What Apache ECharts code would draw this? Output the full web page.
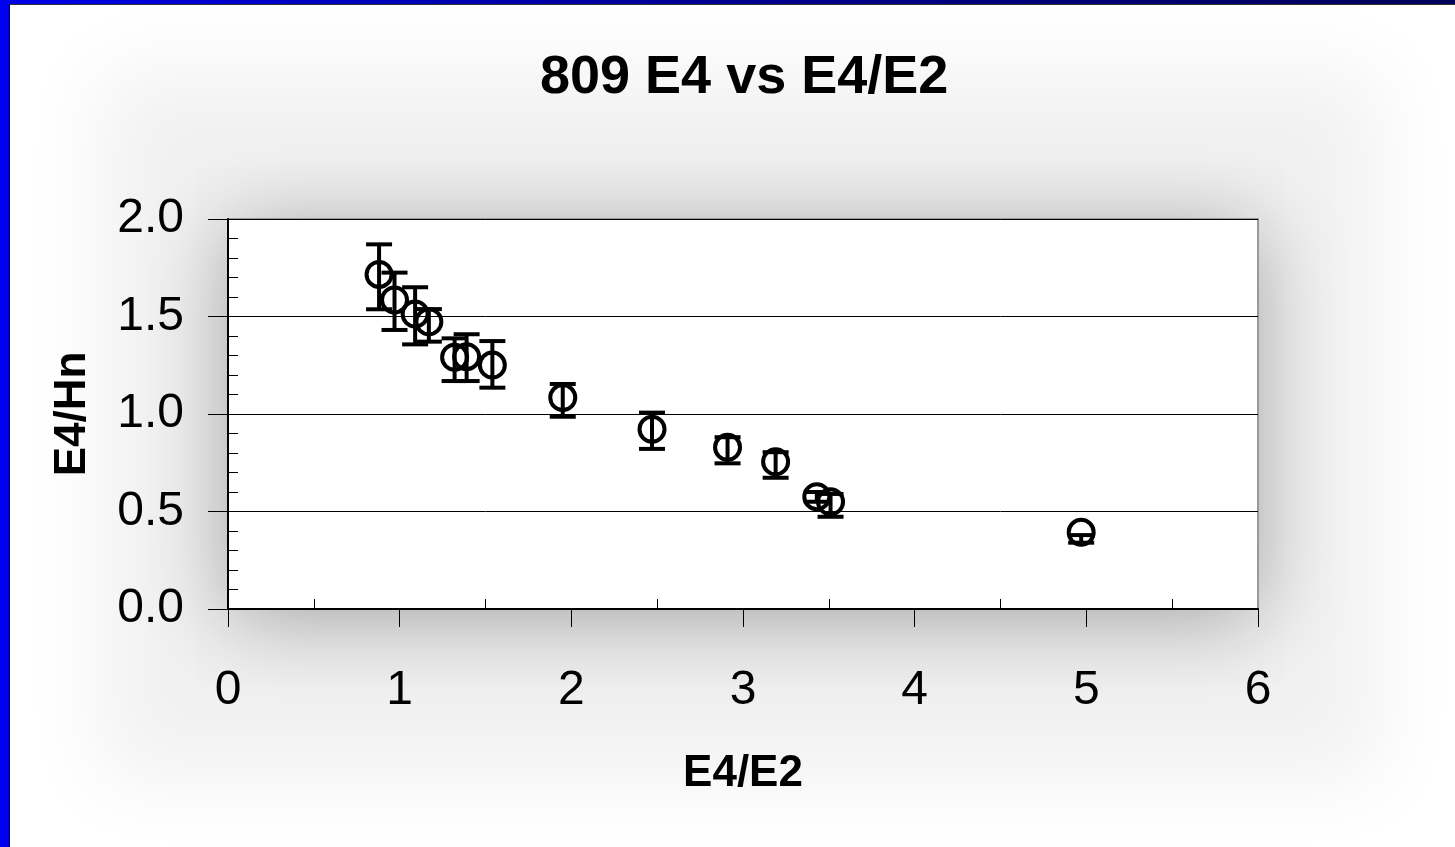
<!DOCTYPE html>
<html>
<head>
<meta charset="utf-8">
<title>809 E4 vs E4/E2</title>
<script src="https://cdn.jsdelivr.net/npm/echarts@6/dist/echarts.min.js"></script>
<style>
  html, body { margin: 0; padding: 0; background: #fff; }
  #chart { width: 1455px; height: 847px; }
</style>
</head>
<body>
<div id="chart"></div>
<script>
// E4/E2 (x), E4/Hn (y) with error bar ends
var ratioE4E2 = [0.88, 0.97, 1.09, 1.17, 1.32, 1.39, 1.54, 1.95, 2.47, 2.91, 3.19, 3.43, 3.51, 4.97];
var ratioE4Hn = [1.716, 1.585, 1.513, 1.473, 1.291, 1.294, 1.251, 1.084, 0.922, 0.829, 0.755, 0.576, 0.550, 0.393];
var errHigh   = [1.870, 1.725, 1.650, 1.538, 1.388, 1.409, 1.374, 1.154, 1.007, 0.881, 0.804, 0.600, 0.590, 0.379];
var errLow    = [1.537, 1.431, 1.357, 1.371, 1.169, 1.169, 1.135, 0.986, 0.821, 0.747, 0.673, 0.550, 0.473, 0.340];

var FONT = '"Liberation Sans", Arial, sans-serif';

var points = ratioE4E2.map(function (x, i) { return [x, ratioE4Hn[i]]; });
var bars = ratioE4E2.map(function (x, i) { return [x, errLow[i], errHigh[i]]; });

var chart = echarts.init(document.getElementById('chart'));

// 误差棒：竖线加上下两个横帽
function renderErrorBar(params, api) {
  var x = api.value(0);
  var top = api.coord([x, api.value(2)]);
  var bot = api.coord([x, api.value(1)]);
  var half = 13;
  var style = { stroke: '#000', lineWidth: 4 };
  return {
    type: 'group',
    children: [
      { type: 'line', shape: { x1: top[0], y1: top[1], x2: bot[0], y2: bot[1] }, style: style },
      { type: 'line', shape: { x1: top[0] - half, y1: top[1], x2: top[0] + half, y2: top[1] }, style: style },
      { type: 'line', shape: { x1: bot[0] - half, y1: bot[1], x2: bot[0] + half, y2: bot[1] }, style: style }
    ]
  };
}

// 外圈柔和的灰色光晕：矩形放在画布外，只把阴影投进来
var SHIFT = 3000;

var option = {
  backgroundColor: '#fff',
  animation: false,
  title: {
    text: '809 E4 vs E4/E2',
    left: 535,
    top: 46,
    textStyle: { fontFamily: FONT, fontSize: 54, fontWeight: 'bold', color: '#000' }
  },
  graphic: [
    { type: 'rect', z: -20, shape: { x: 100 - SHIFT, y: 70, width: 1280, height: 710 },
      style: { fill: '#000', shadowOffsetX: SHIFT, shadowBlur: 80, shadowColor: 'rgba(0,0,0,0.06)' } },
    { type: 'rect', z: -10, shape: { x: 228, y: 219, width: 1030, height: 390 },
      style: { fill: '#fff', shadowBlur: 80, shadowOffsetY: 10, shadowColor: 'rgba(0,0,0,0.32)' } },
    { type: 'rect', z: 10, shape: { x: 0, y: 0, width: 1455, height: 4 },
      style: { fill: new echarts.graphic.LinearGradient(0, 0, 1, 0, [
        { offset: 0, color: '#0000e8' }, { offset: 0.5, color: '#000090' }, { offset: 1, color: '#000058' }]) } },
    { type: 'rect', z: 10, shape: { x: 0, y: 4, width: 1455, height: 1 }, style: { fill: '#333' } },
    { type: 'rect', z: 11, shape: { x: 0, y: 0, width: 9, height: 847 }, style: { fill: '#0000f0' } },
    { type: 'rect', z: 11, shape: { x: 9, y: 4, width: 1, height: 843 }, style: { fill: '#000050' } }
  ],
  grid: {
    left: 228, right: 197, top: 219, bottom: 238,
    show: true, backgroundColor: 'transparent', borderColor: '#999', borderWidth: 2
  },
  xAxis: [
    {
      type: 'value', min: 0, max: 6, interval: 1,
      name: 'E4/E2', nameLocation: 'middle', nameGap: 143,
      nameTextStyle: { fontFamily: FONT, fontSize: 44, fontWeight: 'bold', color: '#000' },
      axisLine: { show: true, lineStyle: { color: '#000', width: 2 } },
      axisTick: { show: true, inside: false, length: 18, lineStyle: { color: '#000', width: 1 } },
      axisLabel: { margin: 58, fontFamily: FONT, fontSize: 48, color: '#000' },
      splitLine: { show: false }
    },
    {
      type: 'value', min: 0, max: 6, interval: 1, position: 'bottom',
      axisLine: { show: false },
      axisTick: { show: false, inside: true },
      minorTick: { show: true, splitNumber: 2, length: 10, lineStyle: { color: '#000', width: 1 } },
      axisLabel: { show: false },
      splitLine: { show: false }
    }
  ],
  yAxis: [
    {
      type: 'value', min: 0, max: 2, interval: 0.5,
      name: 'E4/Hn', nameLocation: 'middle', nameGap: 133, nameRotate: 90,
      nameTextStyle: { fontFamily: FONT, fontSize: 44, fontWeight: 'bold', color: '#000' },
      axisLine: { show: true, lineStyle: { color: '#000', width: 2 } },
      axisTick: { show: true, inside: false, length: 20, lineStyle: { color: '#000', width: 1 } },
      axisLabel: { margin: 44, fontFamily: FONT, fontSize: 48, color: '#000',
        formatter: function (v) { return v.toFixed(1); } },
      splitLine: { show: true, lineStyle: { color: '#000', width: 1 } }
    },
    {
      type: 'value', min: 0, max: 2, interval: 0.5, position: 'left',
      axisLine: { show: false },
      axisTick: { show: false, inside: true },
      minorTick: { show: true, splitNumber: 5, length: 10, lineStyle: { color: '#000', width: 1 } },
      axisLabel: { show: false },
      splitLine: { show: false }
    }
  ],
  series: [
    {
      type: 'custom',
      name: 'error',
      renderItem: renderErrorBar,
      encode: { x: 0, y: [1, 2] },
      data: bars,
      z: 3
    },
    {
      type: 'scatter',
      name: 'E4/Hn',
      symbol: 'circle',
      symbolSize: 25,
      itemStyle: { color: 'rgba(0,0,0,0)', borderColor: '#000', borderWidth: 4, opacity: 1 },
      emphasis: { disabled: true },
      data: points,
      z: 4
    }
  ]
};

chart.setOption(option);
</script>
</body>
</html>
